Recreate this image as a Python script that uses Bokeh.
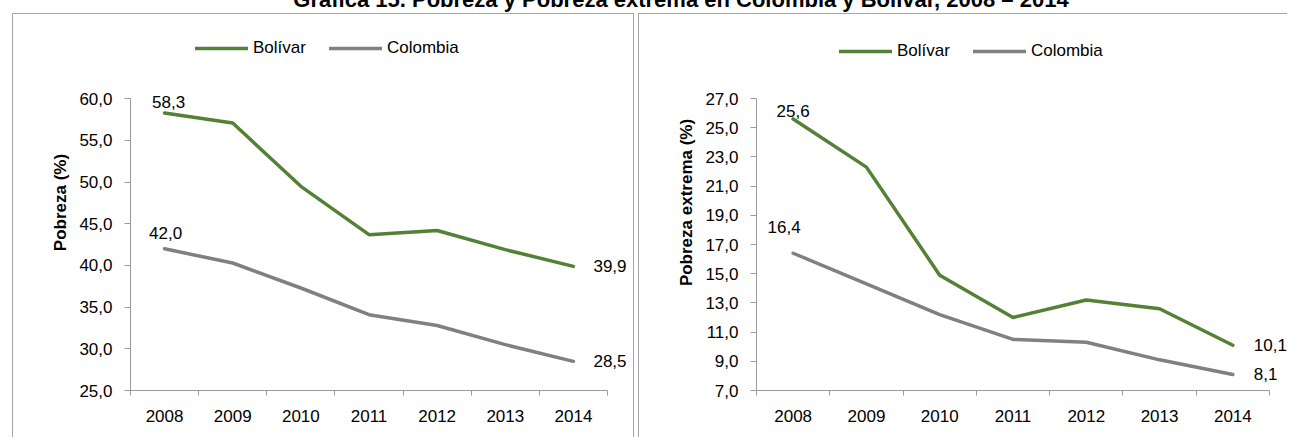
from bokeh.plotting import figure
from bokeh.models import Range1d, FixedTicker, Label, Legend, LegendItem, Div, CustomJSTickFormatter
from bokeh.layouts import row, column
from bokeh.embed import file_html
from bokeh.resources import INLINE

# ---------------- data ----------------
years = ["2008", "2009", "2010", "2011", "2012", "2013", "2014"]
pobreza_bolivar = [58.3, 57.1, 49.5, 43.7, 44.2, 41.9, 39.9]
pobreza_colombia = [42.0, 40.3, 37.3, 34.1, 32.8, 30.5, 28.5]
extrema_bolivar = [25.6, 22.3, 14.9, 12.0, 13.2, 12.6, 10.1]
extrema_colombia = [16.4, 14.3, 12.2, 10.5, 10.3, 9.1, 8.1]
pobreza_ticks = [25, 30, 35, 40, 45, 50, 55, 60]
extrema_ticks = [7, 9, 11, 13, 15, 17, 19, 21, 23, 25, 27]
series_names = ["Bolívar", "Colombia"]
title_text = "Gráfica 15. Pobreza y Pobreza extrema en Colombia y Bolívar, 2008 – 2014"
ylabels = ["Pobreza (%)", "Pobreza extrema (%)"]

# ---------------- style ----------------
FONT = "Liberation Sans"
GREEN = "#538135"
GRAY = "#808080"
AXIS = "#9a9a9a"
BORDER = "#a6a6a6"
FS = "17px"


def fmt(v):
    return f"{v:.1f}".replace(".", ",")


def make_panel(bol, col, ticks, ylabel, width, height, geom, legend_loc, label_offsets, styles):
    # geom: (left border, axis length px, top extra px, axis height px)
    left_b, axis_px, top_px, axis_h = geom
    n = len(years)
    frame_w = width - left_b
    frame_h = top_px + axis_h
    x_end = n * frame_w / axis_px
    y_span = ticks[-1] - ticks[0]
    y_end = ticks[-1] + top_px * y_span / axis_h
    p = figure(width=width, height=height, output_backend="svg", toolbar_location=None,
               x_range=Range1d(0, x_end), y_range=Range1d(ticks[0], y_end),
               min_border_left=left_b, min_border_right=0,
               min_border_top=0, min_border_bottom=height - frame_h)
    p.xgrid.visible = False
    p.ygrid.visible = False
    p.outline_line_color = None
    p.styles = styles

    xs = [i + 0.5 for i in range(n)]
    r1 = p.line(xs, bol, line_color=GREEN, line_width=3.5, line_join="round", line_cap="round")
    r2 = p.line(xs, col, line_color=GRAY, line_width=3.5, line_join="round", line_cap="round")

    xa = p.xaxis[0]
    xa.bounds = (0, n)
    xa.ticker = FixedTicker(ticks=xs, minor_ticks=list(range(n + 1)))
    xa.major_label_overrides = {x: y for x, y in zip(xs, years)}
    xa.major_tick_line_color = None
    xa.major_tick_in = 0
    xa.major_tick_out = 5
    xa.minor_tick_in = 0
    xa.minor_tick_out = 5
    xa.minor_tick_line_color = AXIS
    xa.axis_line_color = AXIS
    xa.major_label_standoff = 14
    xa.major_label_text_font = FONT
    xa.major_label_text_font_size = FS
    xa.major_label_text_color = "black"

    ya = p.yaxis[0]
    ya.bounds = (ticks[0], ticks[-1])
    ya.ticker = FixedTicker(ticks=ticks)
    ya.formatter = CustomJSTickFormatter(code="return tick.toFixed(1).replace('.', ',');")
    ya.major_tick_in = 0
    ya.major_tick_out = 6
    ya.major_tick_line_color = AXIS
    ya.minor_tick_line_color = None
    ya.axis_line_color = AXIS
    ya.major_label_standoff = 12
    ya.major_label_text_font = FONT
    ya.major_label_text_font_size = FS
    ya.major_label_text_color = "black"
    ya.axis_label = ylabel
    ya.axis_label_text_font = FONT
    ya.axis_label_text_font_size = FS
    ya.axis_label_text_font_style = "bold"
    ya.axis_label_text_color = "black"
    ya.axis_label_standoff = 6

    legend = Legend(items=[LegendItem(label=series_names[0], renderers=[r1]),
                           LegendItem(label=series_names[1], renderers=[r2])],
                    orientation="horizontal", location=legend_loc,
                    glyph_width=53, glyph_height=20, label_height=20, label_standoff=5,
                    spacing=23, padding=0, margin=0, border_line_color=None,
                    background_fill_alpha=0, label_text_font=FONT,
                    label_text_font_size=FS, label_text_color="black")
    p.add_layout(legend)

    # end-point data labels
    pts = [(0, bol), (0, col), (n - 1, bol), (n - 1, col)]
    for (idx, series), (dx, dy, align) in zip(pts, label_offsets):
        p.add_layout(Label(x=xs[idx], y=series[idx], text=fmt(series[idx]),
                           x_offset=dx, y_offset=dy, text_align=align, text_baseline="middle",
                           text_font=FONT, text_font_size=FS, text_color="black"))
    return p


left = make_panel(pobreza_bolivar, pobreza_colombia, pobreza_ticks, ylabels[0],
                  622, 424, (117, 477, 85, 294), (65, 332),
                  [(4, 11, "center"), (1, 16, "center"), (20, 0, "left"), (20, 0, "left")],
                  {"border-left": f"1px solid {BORDER}", "border-top": f"1px solid {BORDER}",
                   "border-right": f"1px solid {BORDER}", "margin-left": "12px"})

right = make_panel(extrema_bolivar, extrema_colombia, extrema_ticks, ylabels[1],
                   649, 424, (117, 513, 84, 292), (83, 329),
                   [(0, 8, "center"), (-9, 26, "center"), (21, 0, "left"), (21, 0, "left")],
                   {"border-left": f"1px solid {BORDER}", "border-top": f"1px solid {BORDER}",
                    "margin-left": "4px"})

title = Div(text=(f'<div style="position:absolute;top:-11px;left:36px;width:1290px;'
                  f'text-align:center;white-space:nowrap;font-family:\'{FONT}\';'
                  f'font-weight:bold;font-size:22px;line-height:22px;color:#000">{title_text}</div>'),
            width=1290, height=13, margin=(0, 0, 0, 0), styles={"overflow": "visible"})

layout = column(title, row(left, right))
layout.styles = {"position": "absolute", "left": "0px", "top": "0px"}

open("out.html", "w").write(file_html(layout, INLINE))
